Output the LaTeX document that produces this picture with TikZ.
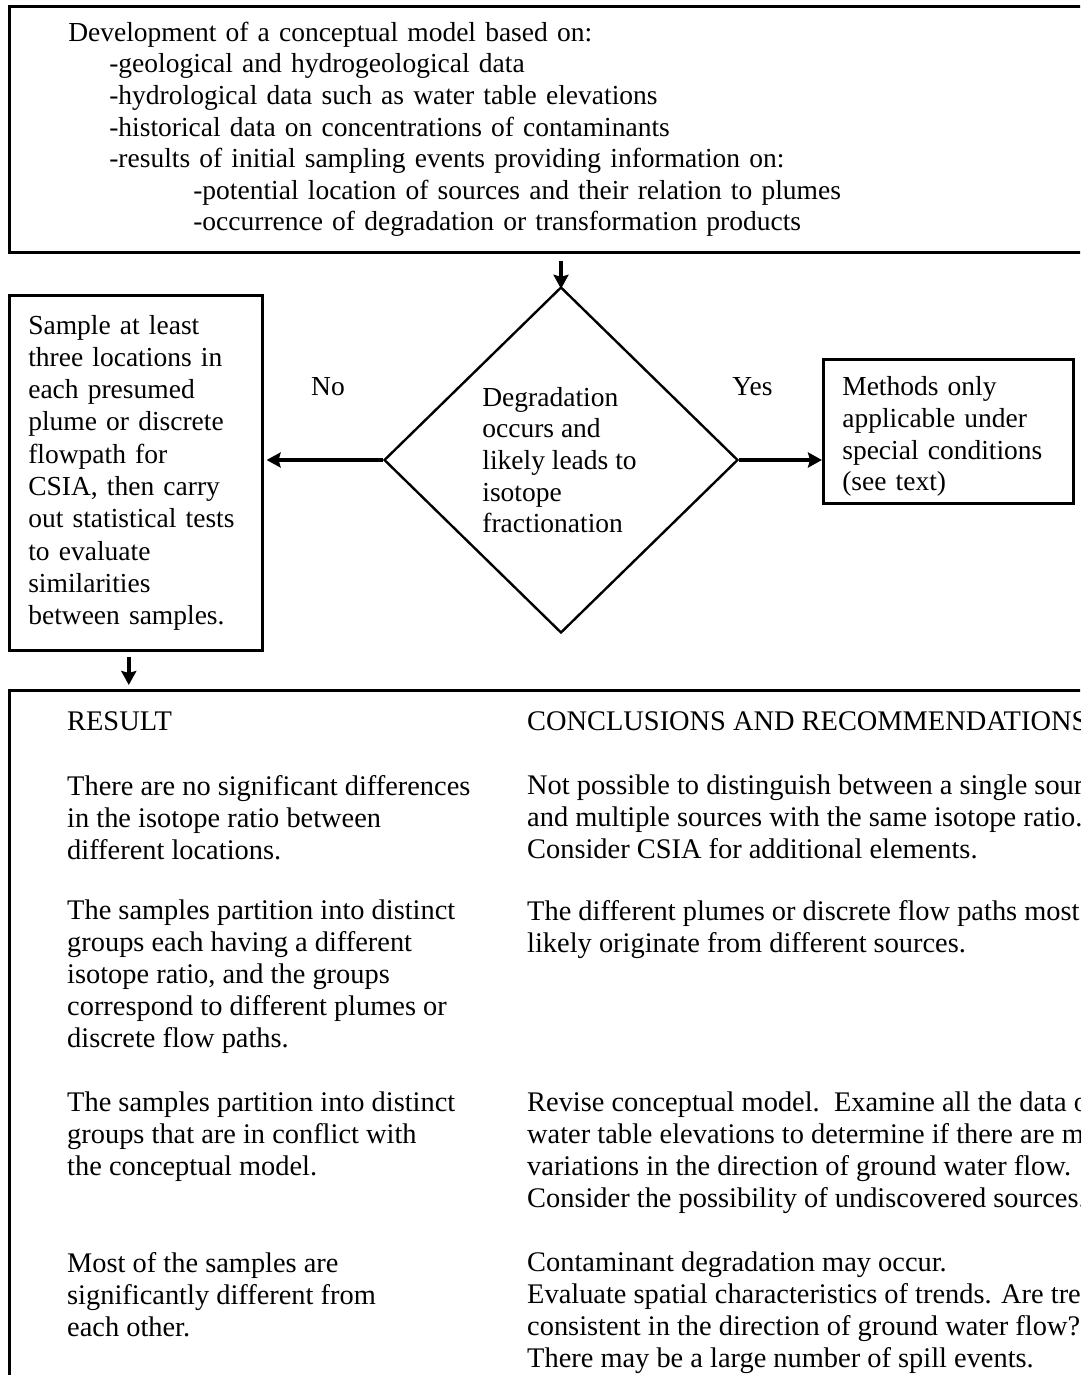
\documentclass[tikz,border=0pt]{standalone}
\usepackage{fontspec}
\setmainfont{Liberation Serif}
\usetikzlibrary{arrows.meta,shapes.geometric,positioning}

\tikzset{
  box/.style={draw, line width=2.6pt, inner ysep=0pt, align=left},
  txt/.style={inner sep=0pt, anchor=north west, align=left, font=\fontsize{28.4}{32}\selectfont},
  flow/.style={draw, line width=3.4pt, -{Stealth[length=14pt,width=15pt,inset=2pt]}},
  every node/.style={font=\fontsize{27.5}{31.6}\selectfont}
}

\begin{document}
\begin{tikzpicture}[x=1pt,y=-1pt]
\useasboundingbox (0,0) rectangle (1080,1375);
\clip (0,0) rectangle (1080,1375);

% top: conceptual model
\node[box, anchor=north west, minimum height=246pt, text width=1030pt, inner xsep=59pt] (model) at (8,5)
{Development of a conceptual model based on:\\
\hspace*{41pt}-geological and hydrogeological data\\
\hspace*{41pt}-hydrological data such as water table elevations\\
\hspace*{41pt}-historical data on concentrations of contaminants\\
\hspace*{41pt}-results of initial sampling events providing information on:\\
\hspace*{125pt}-potential location of sources and their relation to plumes\\
\hspace*{125pt}-occurrence of degradation or transformation products};

% decision
\node[draw, diamond, line width=2.4pt, minimum width=354pt, minimum height=346pt, inner sep=0pt, align=left] (degr) at (561,460)
{\hspace*{-3pt}Degradation\\\hspace*{-3pt}occurs and\\\hspace*{-3pt}likely leads to\\\hspace*{-3pt}isotope\\\hspace*{-3pt}fractionation};

\node[box, anchor=north west, minimum height=355pt, text width=215pt, inner xsep=19pt, font=\fontsize{27.5}{32.3}\selectfont] (sample) at (8,294)
{Sample at least\\three locations in\\each presumed\\plume or discrete\\flowpath for\\CSIA, then carry\\out statistical tests\\to evaluate\\similarities\\between samples.\par\vspace*{12pt}};

\node[box, anchor=north west, minimum height=144pt, text width=212pt, inner xsep=19pt] (special) at (822,358)
{\rule{0pt}{30pt}Methods only\\applicable under\\special conditions\\(see text)};

% bottom: results table
\node[box, anchor=north west, minimum width=1100pt, minimum height=720pt] (outcome) at (8,689) {};

\node[txt] (res0) at (67,711) {RESULT};
\node[txt] (res1) at (67,775) {There are no significant differences\\in the isotope ratio between\\different locations.};
\node[txt] (res2) at (67,900) {The samples partition into distinct\\groups each having a different\\isotope ratio, and the groups\\correspond to different plumes or\\discrete flow paths.};
\node[txt] (res3) at (67,1092) {The samples partition into distinct\\groups that are in conflict with\\the conceptual model.};
\node[txt] (res4) at (67,1252) {Most of the samples are\\significantly different from\\each other.};

\node[txt] (con0) at (527,711) {CONCLUSIONS AND RECOMMENDATIONS};
\node[txt] (con1) at (527,775) {Not possible to distinguish between a single source\\and multiple sources with the same isotope ratio.\\Consider CSIA for additional elements.};
\node[txt] (con2) at (527,900) {The different plumes or discrete flow paths most\\likely originate from different sources.};
\node[txt] (con3) at (527,1092) {Revise conceptual model.\ \ Examine all the data on\\water table elevations to determine if there are major\\variations in the direction of ground water flow.\\Consider the possibility of undiscovered sources.};
\node[txt] (con4) at (527,1252) {Contaminant degradation may occur.\\Evaluate spatial characteristics of trends. Are trends\\consistent in the direction of ground water flow?\\There may be a large number of spill events.};

\path[flow, shorten <=7pt, shorten >=-3pt] (degr.north |- model.south) -- (degr.north);
\path[flow, shorten >=3pt] (degr.west) -- node[pos=0.46, above=59pt] (no) {No} (degr.west -| sample.east);
\path[flow] (degr.east) -- node[pos=0.16, above=59pt] (yes) {Yes} (degr.east -| special.west);
\path[flow, shorten <=5pt, shorten >=4pt] ([xshift=-7pt]sample.south) -- ([xshift=-7pt]sample.south |- outcome.north);
\end{tikzpicture}
\end{document}
